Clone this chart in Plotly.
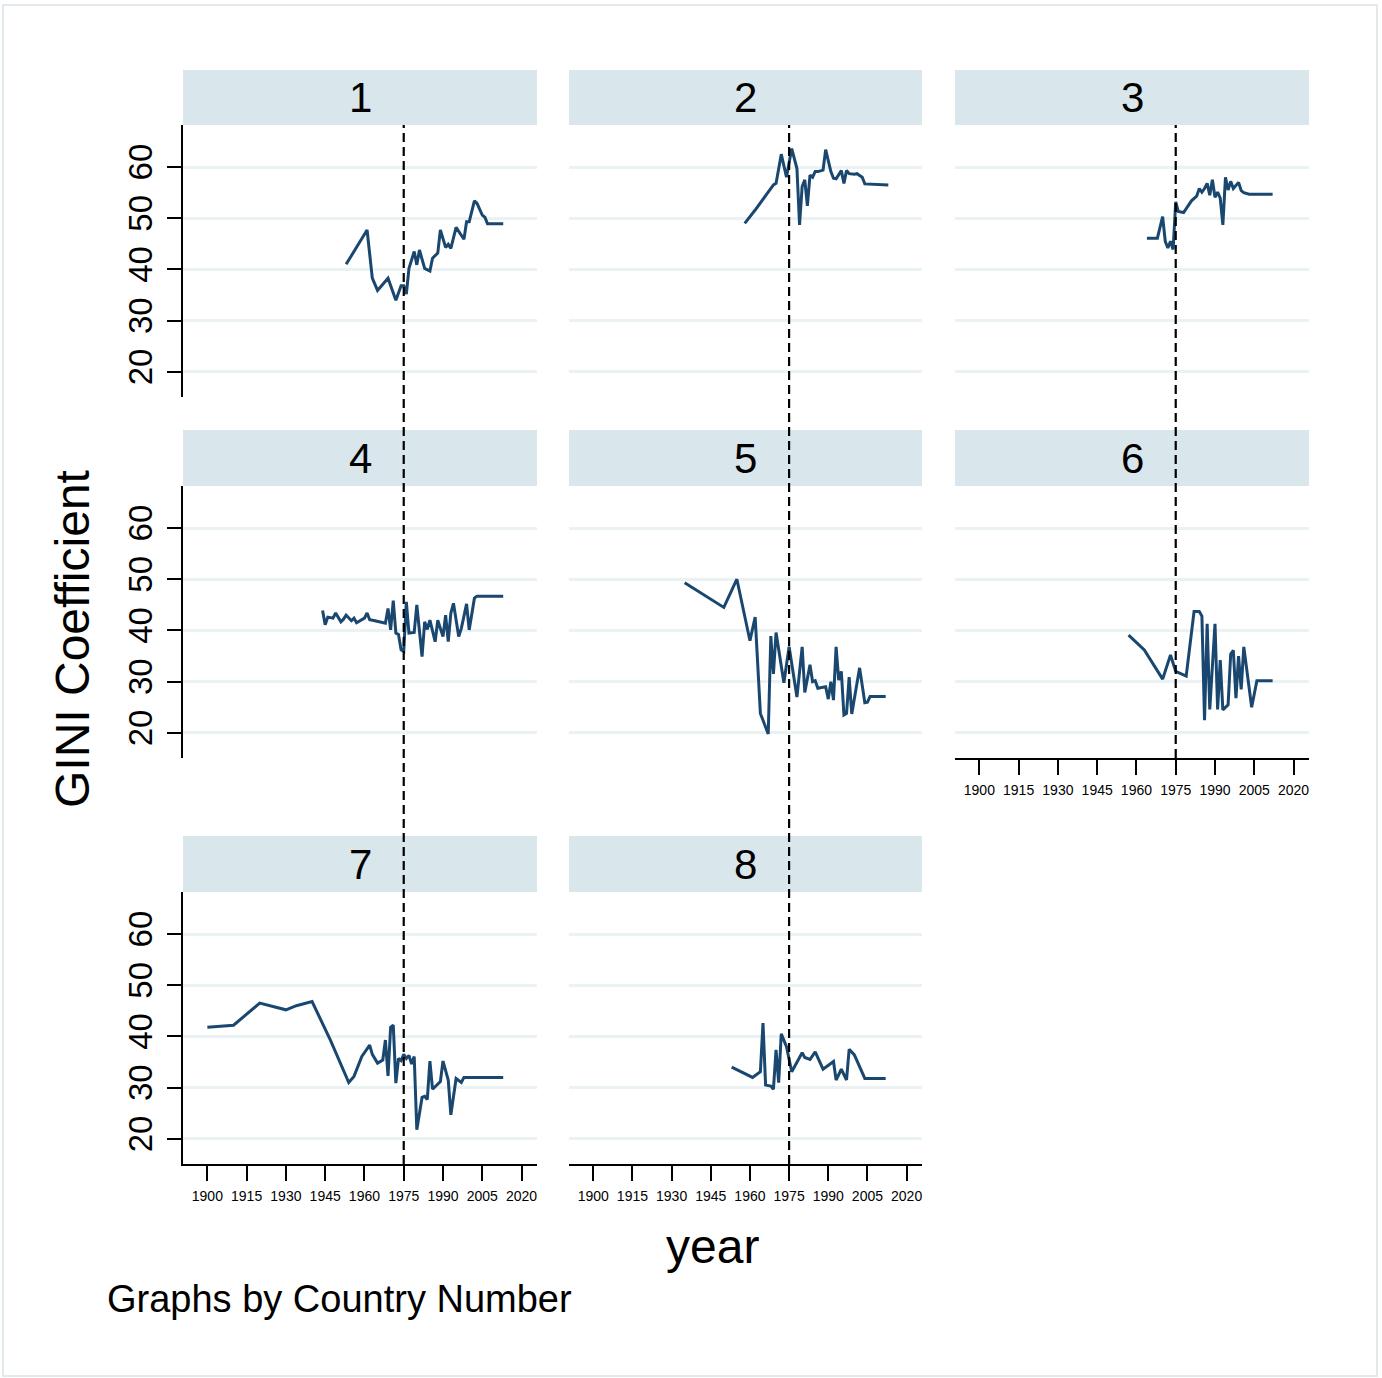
import plotly.graph_objects as go

W, H = 1382, 1378

# ---------------- data ----------------
panel_labels = ["1", "2", "3", "4", "5", "6", "7", "8"]
x_tick_years = [1900, 1915, 1930, 1945, 1960, 1975, 1990, 2005, 2020]
y_tick_vals = [20, 30, 40, 50, 60]
ref_year = 1975

years_1 = [1953, 1961, 1963, 1965, 1969, 1972, 1974, 1975, 1976, 1977, 1979, 1980, 1981, 1983, 1985, 1986,
           1988, 1989, 1991, 1992, 1993, 1995, 1998, 1999, 2000, 2002, 2003, 2005, 2006, 2007, 2013]
gini_1 = [41.0, 47.7, 38.3, 35.9, 38.3, 34.0, 36.8, 36.8, 35.2, 40.2, 43.5, 40.9, 43.8, 40.2, 39.7, 42.2,
          43.2, 47.7, 44.3, 44.9, 44.1, 48.2, 45.9, 49.3, 49.3, 53.4, 52.9, 50.6, 50.2, 48.9, 48.9]

years_2 = [1958, 1962, 1969, 1970, 1972, 1974, 1976, 1978, 1979, 1980, 1981, 1982, 1983, 1984, 1985,
           1986, 1988, 1989, 1991, 1992, 1993, 1995, 1996, 1997, 1998, 2000, 2001, 2003, 2004, 2013]
gini_2 = [49.0, 51.6, 56.5, 56.8, 62.5, 58.0, 63.6, 59.7, 48.7, 56.2, 57.5, 52.4, 58.4, 58.0, 59.1,
          59.1, 59.4, 63.4, 59.1, 57.8, 57.7, 59.3, 56.8, 59.3, 58.7, 58.6, 58.7, 58.0, 56.7, 56.5]

years_3 = [1964, 1968, 1970, 1971, 1972, 1973, 1974, 1975, 1976, 1978, 1981, 1983, 1984, 1985, 1986, 1987,
           1988, 1989, 1990, 1991, 1992, 1993, 1994, 1995, 1996, 1997, 1999, 2000, 2001, 2003, 2012]
gini_3 = [46.1, 46.1, 50.3, 45.5, 44.2, 45.5, 43.9, 53.2, 51.3, 51.1, 53.4, 54.3, 55.8, 55.1, 55.8, 56.8,
          54.5, 57.5, 54.1, 55.1, 53.9, 48.7, 58.0, 55.5, 57.2, 55.8, 57.0, 55.4, 55.0, 54.7, 54.7]

years_4 = [1944, 1945, 1946, 1948, 1949, 1951, 1952, 1953, 1955, 1956, 1957, 1959, 1960, 1961, 1962, 1964,
           1966, 1968, 1969, 1970, 1971, 1972, 1973, 1974, 1975, 1976, 1977, 1979, 1980, 1982, 1983, 1984,
           1985, 1987, 1988, 1990, 1991, 1992, 1993, 1994, 1996, 1997, 1999, 2000, 2002, 2003, 2013]
gini_4 = [43.9, 41.1, 42.6, 42.4, 43.4, 41.7, 42.2, 43.0, 41.9, 42.4, 41.5, 42.2, 42.4, 43.4, 42.1, 41.9,
          41.7, 41.4, 44.3, 40.1, 45.8, 39.5, 39.2, 36.2, 35.9, 45.6, 39.5, 39.6, 45.0, 34.9, 41.7, 40.2,
          42.0, 37.8, 42.0, 38.8, 43.0, 37.8, 43.4, 45.3, 38.8, 40.4, 45.2, 40.1, 46.3, 46.7, 46.7]

years_5 = [1935, 1950, 1955, 1960, 1962, 1964, 1967, 1968, 1969, 1970, 1973, 1975, 1978, 1980, 1981, 1983,
           1984, 1985, 1986, 1989, 1990, 1991, 1992, 1993, 1994, 1995, 1996, 1997, 1998, 1999, 2002, 2004,
           2005, 2006, 2012]
gini_5 = [49.3, 44.5, 50.0, 38.0, 42.6, 23.8, 19.8, 38.9, 31.5, 39.6, 29.8, 36.8, 27.0, 36.8, 27.9, 33.3,
          30.0, 30.2, 28.7, 29.0, 26.6, 30.0, 26.4, 36.8, 30.3, 32.0, 23.5, 23.8, 30.9, 23.7, 32.7, 25.9,
          26.0, 27.1, 27.1]

years_6 = [1957, 1963, 1970, 1973, 1975, 1979, 1982, 1984, 1985, 1986, 1987, 1988, 1990, 1991, 1992, 1993,
           1995, 1996, 1997, 1998, 1999, 2000, 2001, 2004, 2006, 2012]
gini_6 = [39.1, 36.2, 30.5, 35.2, 32.0, 31.1, 43.7, 43.7, 42.8, 22.5, 41.3, 24.6, 41.3, 24.6, 34.2, 24.5,
          25.5, 35.4, 36.1, 26.8, 35.0, 28.5, 36.8, 25.0, 30.2, 30.2]

years_7 = [1900, 1903, 1910, 1920, 1926, 1930, 1934, 1940, 1947, 1954, 1956, 1959, 1962, 1963, 1965, 1967,
           1968, 1969, 1970, 1971, 1972, 1973, 1974, 1975, 1976, 1977, 1978, 1979, 1980, 1982, 1983, 1984,
           1985, 1986, 1989, 1990, 1992, 1993, 1995, 1997, 1998, 2013]
gini_7 = [41.8, 41.9, 42.2, 46.5, 45.7, 45.2, 46.0, 46.8, 39.3, 31.0, 32.2, 36.1, 38.3, 36.5, 34.8, 35.4,
          39.3, 32.3, 41.8, 42.2, 30.9, 35.7, 35.3, 36.5, 35.7, 36.3, 34.6, 36.1, 21.8, 28.1, 28.3, 27.7,
          35.2, 29.7, 31.2, 35.2, 31.5, 24.7, 31.8, 31.0, 32.0, 32.0]

years_8 = [1953, 1961, 1964, 1965, 1966, 1968, 1969, 1970, 1971, 1972, 1974, 1976, 1980, 1981, 1983, 1985,
           1988, 1992, 1993, 1995, 1997, 1998, 2000, 2004, 2012]
gini_8 = [34.0, 32.0, 33.1, 42.6, 30.5, 30.3, 29.7, 37.4, 31.0, 40.5, 38.0, 33.1, 36.8, 35.9, 35.5, 37.0,
          33.6, 35.1, 31.5, 33.6, 31.5, 37.5, 36.4, 31.8, 31.8]

years_all = [years_1, years_2, years_3, years_4, years_5, years_6, years_7, years_8]
gini_all = [gini_1, gini_2, gini_3, gini_4, gini_5, gini_6, gini_7, gini_8]

# ---------------- layout constants (pixels) ----------------
COLS = [(183, 537), (569, 922), (955, 1309)]
ROWS = [(125, 397), (486, 758), (892, 1164)]
STRIPS = [(70, 125), (430, 486), (836, 892)]
X_RANGE = [1890.7, 2025.9]
Y_RANGE = [15.1, 68.2]
LINE_COLOR = "#1a476f"
GRID_COLOR = "#eaf2f3"
STRIP_COLOR = "#d9e6eb"
FONT = "Liberation Sans, Arial, sans-serif"


def fx(x):
    return x / W


def fy(y):
    return 1 - y / H


fig = go.Figure()
layout = {}
shapes = []
annotations = []

n = len(panel_labels)
for i in range(n):
    r, c = divmod(i, 3)
    k = i + 1
    xa = "x" if k == 1 else f"x{k}"
    ya = "y" if k == 1 else f"y{k}"
    xkey = "xaxis" if k == 1 else f"xaxis{k}"
    ykey = "yaxis" if k == 1 else f"yaxis{k}"

    fig.add_trace(go.Scatter(x=years_all[i], y=gini_all[i], mode="lines",
                             line=dict(color=LINE_COLOR, width=3),
                             xaxis=xa, yaxis=ya, showlegend=False,
                             hoverinfo="x+y"))

    # bottom axis shown if nothing below this panel
    has_xaxis = (i + 3) >= n
    xdict = dict(domain=[fx(COLS[c][0]), fx(COLS[c][1])], range=X_RANGE,
                 anchor=ya, showgrid=False, zeroline=False, fixedrange=True)
    if has_xaxis:
        xdict.update(showline=True, linecolor="black", linewidth=1.8,
                     ticks="outside", ticklen=15, tickwidth=1.8, tickcolor="black",
                     tickvals=x_tick_years, ticktext=[str(v) for v in x_tick_years],
                     tickfont=dict(family=FONT, size=14, color="black"),
                     ticklabelstandoff=3)
    else:
        xdict.update(showline=False, ticks="", showticklabels=False)
    layout[xkey] = xdict

    ydict = dict(domain=[fy(ROWS[r][1]), fy(ROWS[r][0])], range=Y_RANGE,
                 anchor=xa, showgrid=True, gridcolor=GRID_COLOR, gridwidth=3,
                 zeroline=False, tickvals=y_tick_vals, fixedrange=True)
    if c == 0:
        ydict.update(showline=True, linecolor="black", linewidth=1.8,
                     ticks="outside", ticklen=14, tickwidth=1.8, tickcolor="black",
                     ticktext=[str(v) for v in y_tick_vals],
                     tickangle=-90,
                     tickfont=dict(family=FONT, size=33, color="black"),
                     ticklabelstandoff=2)
    else:
        ydict.update(showline=False, ticks="", showticklabels=False)
    layout[ykey] = ydict

    # strip header
    shapes.append(dict(type="rect", xref="paper", yref="paper",
                       x0=fx(COLS[c][0]), x1=fx(COLS[c][1]),
                       y0=fy(STRIPS[r][1]), y1=fy(STRIPS[r][0]),
                       fillcolor=STRIP_COLOR, line=dict(width=0), layer="below"))
    annotations.append(dict(text=panel_labels[i], xref="paper", yref="paper",
                            x=fx((COLS[c][0] + COLS[c][1]) / 2),
                            y=fy((STRIPS[r][0] + STRIPS[r][1]) / 2),
                            showarrow=False, xanchor="center", yanchor="middle",
                            font=dict(family=FONT, size=42, color="black")))

# vertical reference line at 1975, drawn per column through all its panels
for c in range(3):
    members = [i for i in range(n) if i % 3 == c]
    last = members[-1]
    k = c + 1
    xa = "x" if k == 1 else f"x{k}"
    shapes.append(dict(type="line", xref=xa, yref="paper",
                       x0=ref_year, x1=ref_year,
                       y0=fy(ROWS[last // 3][1]), y1=fy(ROWS[0][0]),
                       line=dict(color="black", width=2.2, dash="9px,5px"),
                       layer="above"))

# outer frame
shapes.append(dict(type="rect", xref="paper", yref="paper",
                   x0=fx(3), x1=fx(1377), y0=fy(1376), y1=fy(5),
                   line=dict(color="#e2eaee", width=2), fillcolor="rgba(0,0,0,0)", layer="below"))

annotations.append(dict(text="GINI Coefficient", xref="paper", yref="paper",
                        x=fx(72), y=fy(639), textangle=-90, showarrow=False,
                        xanchor="center", yanchor="middle",
                        font=dict(family=FONT, size=48, color="black")))
annotations.append(dict(text="year", xref="paper", yref="paper",
                        x=fx(712), y=fy(1246), showarrow=False,
                        xanchor="center", yanchor="middle",
                        font=dict(family=FONT, size=48, color="black")))
annotations.append(dict(text="Graphs by Country Number", xref="paper", yref="paper",
                        x=fx(105), y=fy(1299), showarrow=False,
                        xanchor="left", yanchor="middle",
                        font=dict(family=FONT, size=38, color="black")))

fig.update_layout(width=W, height=H, margin=dict(l=0, r=0, t=0, b=0),
                  paper_bgcolor="white", plot_bgcolor="white",
                  shapes=shapes, annotations=annotations, showlegend=False,
                  font=dict(family=FONT), **layout)

fig.write_html("out.html", config={"displayModeBar": False},
               post_script="document.body.style.margin='0px';document.body.style.overflow='hidden';")
